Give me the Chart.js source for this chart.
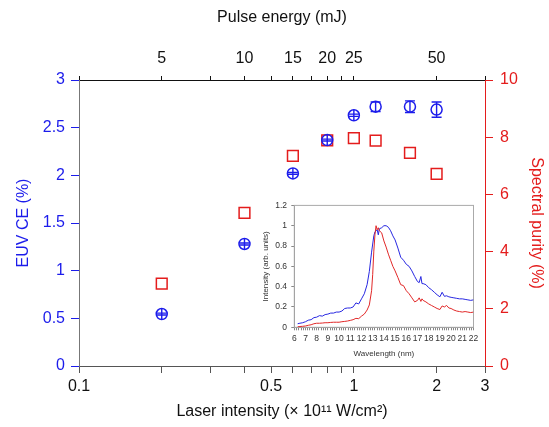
<!DOCTYPE html>
<html>
<head>
<meta charset="utf-8">
<script src="https://cdn.jsdelivr.net/npm/chart.js@4.4.0/dist/chart.umd.min.js"></script>
<style>
  html, body { margin: 0; padding: 0; background: #fff; }
  #wrap { position: relative; width: 549px; height: 427px; }
  #main { position: absolute; left: 0; top: 0; }
  #inset { position: absolute; left: 255px; top: 196px; }
</style>
</head>
<body>
<div id="wrap">
  <canvas id="main" width="549" height="427"></canvas>
  <canvas id="inset" width="232" height="170"></canvas>
</div>
<script>
// ---------- Main chart data ----------
const intensity = [0.2, 0.4, 0.6, 0.8, 1.0, 1.2, 1.6, 2.0];          // ×10^11 W/cm^2
const euvCE = [0.545, 1.28, 2.02, 2.37, 2.63, 2.72, 2.72, 2.69];      // %
const euvCEErr = [0.01, 0.01, 0.01, 0.01, 0.012, 0.05, 0.061, 0.08];  // %
const spectralPurity = [2.88, 5.35, 7.35, 7.89, 7.97, 7.88, 7.45, 6.72]; // %

const intensityTicks = [0.1, 0.2, 0.3, 0.4, 0.5, 0.6, 0.7, 0.8, 0.9, 1, 2, 3];
const intensityLabels = [0.1, 0.5, 1, 2, 3];
const energyTicks = [2.5, 5, 7.5, 10, 12.5, 15, 17.5, 20, 22.5, 25, 50, 75];
const energyLabels = [5, 10, 15, 20, 25, 50];
const ceTicks = [0, 0.5, 1, 1.5, 2, 2.5, 3];
const purityTicks = [0, 2, 4, 6, 8, 10];

// ---------- Inset data ----------
const wavelength = [6.3,6.5,6.75,7,7.25,7.5,7.75,8,8.25,8.5,8.75,9,9.25,9.5,9.75,10,10.25,10.5,10.75,11,11.25,11.5,11.75,12,12.25,12.5,12.7,12.9,13.0,13.1,13.2,13.3,13.4,13.5,13.6,13.8,14.0,14.2,14.4,14.6,14.8,15.0,15.25,15.5,15.75,16.0,16.25,16.5,16.75,17.0,17.15,17.3,17.4,17.5,17.75,18.0,18.25,18.5,18.75,19.0,19.2,19.4,19.6,19.8,20.0,20.25,20.5,20.75,21.0,21.25,21.5,21.75,22.0];
const spectrumBlue = [0.035,0.04,0.045,0.055,0.07,0.075,0.095,0.10,0.115,0.11,0.125,0.13,0.14,0.14,0.15,0.15,0.16,0.185,0.19,0.19,0.20,0.24,0.23,0.28,0.33,0.42,0.55,0.74,0.82,0.90,0.94,0.95,0.96,0.91,0.97,0.98,1.0,1.0,0.985,0.95,0.90,0.86,0.78,0.69,0.66,0.62,0.60,0.555,0.50,0.45,0.44,0.50,0.43,0.43,0.42,0.39,0.37,0.345,0.32,0.30,0.345,0.305,0.31,0.30,0.295,0.29,0.285,0.28,0.28,0.275,0.27,0.265,0.27];
const spectrumRed = [0.005,0.008,0.01,0.013,0.02,0.025,0.035,0.04,0.04,0.042,0.045,0.045,0.048,0.05,0.05,0.05,0.055,0.058,0.062,0.068,0.075,0.088,0.085,0.11,0.13,0.17,0.22,0.36,0.52,0.75,0.91,1.0,0.96,0.98,0.95,0.93,0.85,0.79,0.72,0.66,0.60,0.555,0.49,0.42,0.41,0.36,0.33,0.29,0.25,0.265,0.29,0.255,0.28,0.265,0.25,0.23,0.215,0.20,0.185,0.175,0.21,0.20,0.215,0.19,0.185,0.17,0.16,0.155,0.15,0.155,0.15,0.145,0.15];
const wlMajorTicks = [6,7,8,9,10,11,12,13,14,15,16,17,18,19,20,21,22];
const insetYTicks = [0, 0.2, 0.4, 0.6, 0.8, 1, 1.2];

const BLUE = 'rgb(28,28,235)';
const RED = 'rgb(228,28,28)';
const FONT = 'Liberation Sans, Arial, Helvetica, sans-serif';

// Error bar plugin (for EUV CE dataset)
const errorBars = {
  id: 'errorBars',
  afterDatasetsDraw(chart) {
    const ctx = chart.ctx;
    const xs = chart.scales.x, ys = chart.scales.y;
    ctx.save();
    ctx.strokeStyle = BLUE;
    ctx.lineWidth = 1.4;
    const r = 5.5, cap = 5;
    intensity.forEach((v, i) => {
      const x = xs.getPixelForValue(v);
      const yc = ys.getPixelForValue(euvCE[i]);
      const yt = ys.getPixelForValue(euvCE[i] + euvCEErr[i]);
      const yb = ys.getPixelForValue(euvCE[i] - euvCEErr[i]);
      ctx.beginPath();
      ctx.moveTo(x, Math.min(yt, yc - r));
      ctx.lineTo(x, Math.max(yb, yc + r));
      ctx.moveTo(x - cap, yt); ctx.lineTo(x + cap, yt);
      ctx.moveTo(x - cap, yb); ctx.lineTo(x + cap, yb);
      ctx.stroke();
    });
    ctx.restore();
  }
};

const tickFont = { family: FONT, size: 16 };

new Chart(document.getElementById('main'), {
  type: 'scatter',
  data: {
    datasets: [
      {
        label: 'EUV CE',
        data: intensity.map((x, i) => ({ x, y: euvCE[i] })),
        xAxisID: 'x', yAxisID: 'y',
        pointStyle: 'circle', pointRadius: 5.5, pointBorderWidth: 1.5,
        borderColor: BLUE, backgroundColor: 'rgba(0,0,0,0)',
        pointHoverRadius: 5.5
      },
      {
        label: 'Spectral purity',
        data: intensity.map((x, i) => ({ x, y: spectralPurity[i] })),
        xAxisID: 'x', yAxisID: 'y2',
        pointStyle: 'rect', pointRadius: 7.6, pointBorderWidth: 1.5,
        borderColor: RED, backgroundColor: 'rgba(0,0,0,0)',
        pointHoverRadius: 7.6
      }
    ]
  },
  options: {
    responsive: false, animation: false,
    layout: { padding: 0 },
    plugins: { legend: { display: false }, tooltip: { enabled: false } },
    scales: {
      x: {
        type: 'logarithmic', position: 'bottom', min: 0.1, max: 3,
        afterBuildTicks: s => { s.ticks = intensityTicks.map(v => ({ value: v })); },
        afterFit: s => { s.height = 61; },
        ticks: { autoSkip: false, maxRotation: 0, padding: 4, color: '#111', font: tickFont,
                 callback: v => intensityLabels.includes(v) ? String(v) : '' },
        grid: { drawOnChartArea: false, drawTicks: true, tickLength: 7, tickColor: '#555', tickWidth: 1 },
        border: { display: true, color: '#555', width: 1 },
        title: { display: true, text: 'Laser intensity (× 10¹¹ W/cm²)', color: '#111',
                 font: { family: FONT, size: 16 }, padding: { top: 0, bottom: 6 } }
      },
      x2: {
        type: 'logarithmic', position: 'top', min: 2.5, max: 75, display: true,
        afterBuildTicks: s => { s.ticks = energyTicks.map(v => ({ value: v })); },
        afterFit: s => { s.height = 80; },
        ticks: { autoSkip: false, maxRotation: 0, padding: 8, color: '#111', font: tickFont,
                 callback: v => energyLabels.includes(v) ? String(v) : '' },
        grid: { drawOnChartArea: false, drawTicks: true, tickLength: 4, tickColor: '#111', tickWidth: 1 },
        border: { display: true, color: '#111', width: 1 },
        title: { display: true, text: 'Pulse energy (mJ)', color: '#111',
                 font: { family: FONT, size: 16 }, padding: { top: 8.4, bottom: 0 } }
      },
      y: {
        type: 'linear', position: 'left', min: 0, max: 3,
        afterBuildTicks: s => { s.ticks = ceTicks.map(v => ({ value: v })); },
        afterFit: s => { s.width = 79; },
        ticks: { padding: 6, color: BLUE, font: tickFont, callback: v => String(v) },
        grid: { drawOnChartArea: false, drawTicks: true, tickLength: 8, tickColor: BLUE, tickWidth: 1 },
        border: { display: true, color: '#777', width: 1 },
        title: { display: true, text: 'EUV CE (%)', color: BLUE,
                 font: { family: FONT, size: 16 }, padding: { top: 13.5, bottom: 0 } }
      },
      y2: {
        type: 'linear', position: 'right', min: 0, max: 10,
        afterBuildTicks: s => { s.ticks = purityTicks.map(v => ({ value: v })); },
        afterFit: s => { s.width = 64; },
        ticks: { padding: 7, color: RED, font: tickFont, callback: v => String(v) },
        grid: { drawOnChartArea: false, drawTicks: true, tickLength: 8, tickColor: RED, tickWidth: 1 },
        border: { display: true, color: RED, width: 1 },
        title: { display: true, text: 'Spectral purity (%)', color: RED,
                 font: { family: FONT, size: 16 }, padding: { top: 3, bottom: 0 } }
      }
    }
  },
  plugins: [errorBars]
});

// ---------- Inset ----------
const insetFrame = {
  id: 'insetFrame',
  beforeDatasetsDraw(chart) {
    const { ctx, chartArea: a } = chart;
    ctx.save();
    ctx.strokeStyle = '#aaa';
    ctx.lineWidth = 1;
    ctx.strokeRect(a.left, a.top, a.right - a.left, a.bottom - a.top);
    ctx.restore();
  }
};
const insetFont = { family: FONT, size: 8.5 };
const wlAllTicks = [];
wlMajorTicks.forEach((t, i) => {
  wlAllTicks.push(t);
  if (i < wlMajorTicks.length - 1) for (let k = 1; k < 5; k++) wlAllTicks.push(+(t + k * 0.2).toFixed(1));
});

new Chart(document.getElementById('inset'), {
  type: 'line',
  data: {
    datasets: [
      { data: wavelength.map((x, i) => ({ x, y: spectrumRed[i] })), borderColor: 'rgb(225,40,40)',
        borderWidth: 1, pointRadius: 0, tension: 0, fill: false },
      { data: wavelength.map((x, i) => ({ x, y: spectrumBlue[i] })), borderColor: 'rgb(40,40,225)',
        borderWidth: 1, pointRadius: 0, tension: 0, fill: false }
    ]
  },
  options: {
    responsive: false, animation: false,
    layout: { padding: { left: 0, top: 7.3, right: 13.5, bottom: 0 } },
    plugins: { legend: { display: false }, tooltip: { enabled: false } },
    scales: {
      x: {
        type: 'linear', min: 6, max: 22,
        afterBuildTicks: s => { s.ticks = wlAllTicks.map(v => ({ value: v })); },
        afterFit: s => { s.height = 38.7; },
        ticks: { autoSkip: false, maxRotation: 0, padding: 3.6, color: '#333', font: insetFont,
                 callback: v => wlMajorTicks.includes(v) ? String(v) : '' },
        grid: { drawOnChartArea: false, drawTicks: true, tickLength: 3, tickColor: '#888' },
        border: { display: true, color: '#888' },
        title: { display: true, text: 'Wavelength (nm)', color: '#333',
                 font: { family: FONT, size: 8 }, padding: { top: 0, bottom: 7.2 } }
      },
      y: {
        type: 'linear', min: 0, max: 1.2,
        afterBuildTicks: s => { s.ticks = insetYTicks.map(v => ({ value: v })); },
        afterFit: s => { s.width = 39.3; },
        ticks: { padding: 4.3, color: '#333', font: insetFont, callback: v => String(v) },
        grid: { drawOnChartArea: false, drawTicks: true, tickLength: 3, tickColor: '#888' },
        border: { display: true, color: '#888' },
        title: { display: true, text: 'Intensity (arb. units)', color: '#333',
                 font: { family: FONT, size: 8 }, padding: { top: 6.2, bottom: 0 } }
      }
    }
  },
  plugins: [insetFrame]
});
</script>
</body>
</html>
